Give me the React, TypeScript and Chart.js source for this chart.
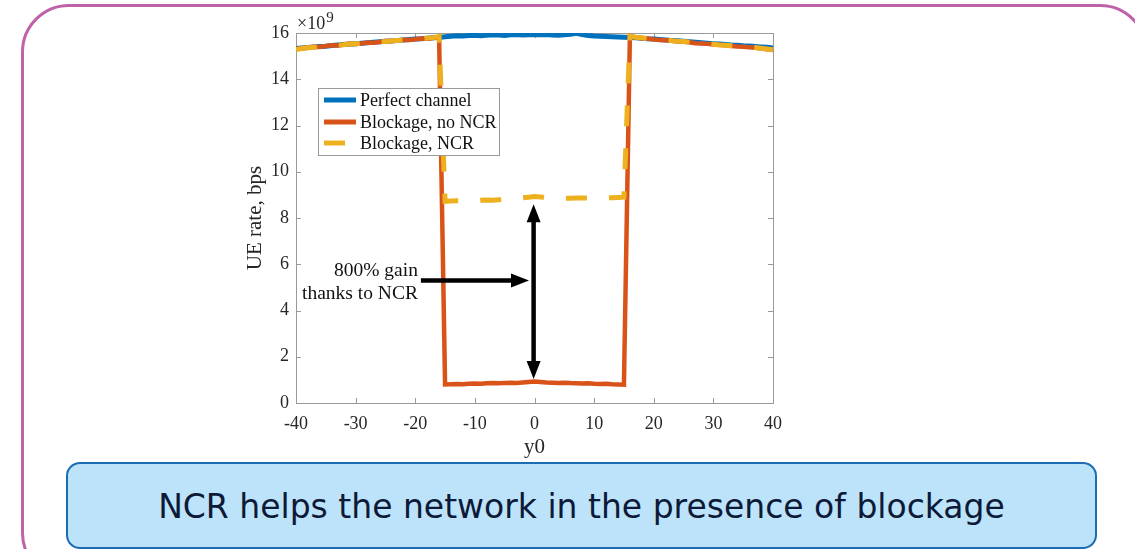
import React, { useEffect, useRef } from "react";
import { Chart, registerables } from "chart.js";

Chart.register(...registerables);

const X_VALUES = [-40,-39,-38,-37,-36,-35,-34,-33,-32,-31,-30,-29,-28,-27,-26,-25,-24,-23,-22,-21,-20,-19,-18,-17,-16,-15,-14,-13,-12,-11,-10,-9,-8,-7,-6,-5,-4,-3,-2,-1,0,1,2,3,4,5,6,7,8,9,10,11,12,13,14,15,16,17,18,19,20,21,22,23,24,25,26,27,28,29,30,31,32,33,34,35,36,37,38,39,40];

const PERFECT = [15.33,15.35,15.37,15.40,15.42,15.43,15.46,15.48,15.50,15.52,
  15.54,15.56,15.58,15.60,15.62,15.64,15.66,15.68,15.70,15.72,
  15.74,15.75,15.77,15.79,15.81,15.84,15.86,15.88,15.87,15.89,
  15.90,15.88,15.90,15.92,15.91,15.89,15.92,15.93,15.91,15.92,
  15.94,
  15.92,15.93,15.91,15.90,15.92,15.95,15.99,15.93,15.89,15.87,
  15.86,15.85,15.84,15.83,15.82,15.81,15.79,15.77,15.75,15.74,
  15.72,15.70,15.68,15.66,15.64,15.62,15.60,15.58,15.56,15.54,
  15.52,15.50,15.48,15.47,15.45,15.44,15.42,15.40,15.38,15.35];

const NO_NCR = [15.31,15.34,15.37,15.41,15.40,15.44,15.47,15.46,15.50,15.53,
  15.52,15.55,15.59,15.58,15.61,15.65,15.64,15.67,15.71,15.70,
  15.73,15.76,15.75,15.78,15.84,
  0.80,0.81,0.82,0.81,0.83,
  0.84,0.83,0.85,0.86,0.85,0.87,0.88,0.87,0.89,0.91,
  0.93,
  0.91,0.89,0.88,0.87,0.88,0.86,0.85,0.84,0.85,0.83,
  0.82,0.83,0.81,0.80,0.79,
  15.87,15.80,15.77,15.76,15.72,
  15.70,15.69,15.66,15.63,15.62,15.60,15.56,15.55,15.53,15.50,
  15.49,15.47,15.44,15.42,15.41,15.38,15.36,15.33,15.30,15.26];

const WITH_NCR = [15.29,15.33,15.36,15.38,15.41,15.43,15.45,15.48,15.49,15.52,
  15.54,15.55,15.57,15.60,15.62,15.63,15.66,15.68,15.69,15.72,
  15.73,15.75,15.78,15.80,15.85,
  8.72,8.74,8.75,8.74,8.76,
  8.75,8.77,8.78,8.77,8.79,8.80,8.82,8.84,8.87,8.90,
  8.93,
  8.91,8.88,8.86,8.87,8.86,8.85,8.86,8.87,8.86,8.85,
  8.86,8.87,8.88,8.89,8.90,
  15.86,15.82,15.79,15.76,15.74,
  15.71,15.70,15.67,15.64,15.63,15.60,15.58,15.55,15.53,15.51,
  15.48,15.47,15.45,15.43,15.40,15.39,15.37,15.34,15.31,15.28];

const SERIES_LABELS = ["Perfect channel", "Blockage, no NCR", "Blockage, NCR"];
const X_TICKS = [-40, -30, -20, -10, 0, 10, 20, 30, 40];
const Y_TICKS = [0, 2, 4, 6, 8, 10, 12, 14, 16];
const X_TITLE = "y0";
const Y_TITLE = "UE rate, bps";
const EXPONENT = "9";
const ANNOTATION_LINES = ["800% gain", "thanks to NCR"];
const ARROW_H = { y: 5.3, x1: -19.05, x2: -0.92 };
const ARROW_V = { x: -0.15, y1: 8.6, y2: 1.04 };
const CAPTION = "NCR helps the network in the presence of blockage";

const BLUE = "#0072BD";
const ORANGE = "#D95319";
const YELLOW = "#EDB120";
const AXIS = "#9a9a9a";
const TEXT = "#262626";
const SERIF = "'Liberation Serif', 'Times New Roman', serif";

function arrowHead(ctx: CanvasRenderingContext2D, tx: number, ty: number, dx: number, dy: number, len: number, hw: number) {
  const nx = -dy, ny = dx;
  ctx.beginPath();
  ctx.moveTo(tx, ty);
  ctx.lineTo(tx - dx * len + nx * hw, ty - dy * len + ny * hw);
  ctx.lineTo(tx - dx * len - nx * hw, ty - dy * len - ny * hw);
  ctx.closePath();
  ctx.fill();
}

const boxPlugin = {
  id: "matlabBox",
  beforeDatasetsDraw(chart: any) {
    const { ctx, chartArea: a, scales } = chart;
    ctx.save();
    ctx.strokeStyle = AXIS;
    ctx.lineWidth = 1;
    ctx.strokeRect(Math.round(a.left) + 0.5, Math.round(a.top) + 0.5, Math.round(a.right - a.left), Math.round(a.bottom - a.top));
    const tl = 5;
    ctx.beginPath();
    X_TICKS.forEach((v) => {
      const px = Math.round(scales.x.getPixelForValue(v)) + 0.5;
      ctx.moveTo(px, a.bottom); ctx.lineTo(px, a.bottom - tl);
      ctx.moveTo(px, a.top); ctx.lineTo(px, a.top + tl);
    });
    Y_TICKS.forEach((v) => {
      const py = Math.round(scales.y.getPixelForValue(v)) + 0.5;
      ctx.moveTo(a.left, py); ctx.lineTo(a.left + tl, py);
      ctx.moveTo(a.right, py); ctx.lineTo(a.right - tl, py);
    });
    ctx.stroke();
    // exponent label
    ctx.fillStyle = TEXT;
    ctx.textBaseline = "alphabetic";
    ctx.textAlign = "left";
    ctx.font = `18px ${SERIF}`;
    ctx.fillText("\u00d710", a.left + 1, a.top - 4);
    const w = ctx.measureText("\u00d710").width;
    ctx.font = `15px ${SERIF}`;
    ctx.fillText(EXPONENT, a.left + 1 + w + 1, a.top - 11);
    ctx.restore();
  },
  afterDatasetsDraw(chart: any) {
    const { ctx, chartArea: a, scales } = chart;
    ctx.save();
    // legend
    const lx = a.left + 22, ly = a.top + 55, lw = 181, lh = 67;
    ctx.fillStyle = "#ffffff";
    ctx.fillRect(lx, ly, lw, lh);
    ctx.strokeStyle = AXIS;
    ctx.lineWidth = 1;
    ctx.strokeRect(lx + 0.5, ly + 0.5, lw, lh);
    const colors = [BLUE, ORANGE, YELLOW];
    const rows = [12, 34, 55];
    ctx.font = `18px ${SERIF}`;
    ctx.textBaseline = "middle";
    ctx.textAlign = "left";
    SERIES_LABELS.forEach((lab, i) => {
      const yy = ly + rows[i];
      ctx.strokeStyle = colors[i];
      ctx.lineWidth = 5;
      ctx.beginPath();
      if (i === 2) {
        ctx.moveTo(lx + 6, yy); ctx.lineTo(lx + 27, yy);
      } else {
        ctx.moveTo(lx + 6, yy); ctx.lineTo(lx + 38, yy);
      }
      ctx.stroke();
      ctx.fillStyle = "#111";
      ctx.fillText(lab, lx + 42, yy + 1);
    });
    // annotation arrows
    ctx.fillStyle = "#000";
    ctx.strokeStyle = "#000";
    ctx.lineWidth = 4.5;
    const hy = scales.y.getPixelForValue(ARROW_H.y);
    const hx1 = scales.x.getPixelForValue(ARROW_H.x1);
    const hx2 = scales.x.getPixelForValue(ARROW_H.x2);
    ctx.beginPath();
    ctx.moveTo(hx1, hy); ctx.lineTo(hx2 - 12, hy);
    ctx.stroke();
    arrowHead(ctx, hx2, hy, 1, 0, 18, 7);
    const vx = scales.x.getPixelForValue(ARROW_V.x);
    const vy1 = scales.y.getPixelForValue(ARROW_V.y1);
    const vy2 = scales.y.getPixelForValue(ARROW_V.y2);
    ctx.beginPath();
    ctx.moveTo(vx, vy1 + 12); ctx.lineTo(vx, vy2 - 12);
    ctx.stroke();
    arrowHead(ctx, vx, vy1, 0, -1, 18, 7);
    arrowHead(ctx, vx, vy2, 0, 1, 18, 7);
    // annotation text
    ctx.font = `19.5px ${SERIF}`;
    ctx.fillStyle = "#111";
    ctx.textAlign = "right";
    ctx.textBaseline = "alphabetic";
    ctx.fillText(ANNOTATION_LINES[0], hx1 - 3, hy - 4);
    ctx.fillText(ANNOTATION_LINES[1], hx1 - 3, hy + 19);
    ctx.restore();
  },
};

export default function App() {
  const ref = useRef<HTMLCanvasElement | null>(null);
  useEffect(() => {
    if (!ref.current) return;
    const mk = (vals: number[]) => X_VALUES.map((x, i) => ({ x, y: vals[i] }));
    const chart = new Chart(ref.current, {
      type: "line",
      data: {
        datasets: [
          { label: SERIES_LABELS[2], data: mk(WITH_NCR), borderColor: YELLOW, borderWidth: 5, borderDash: [21, 22], pointRadius: 0, order: 0, borderCapStyle: "butt" },
          { label: SERIES_LABELS[1], data: mk(NO_NCR), borderColor: ORANGE, borderWidth: 4.5, pointRadius: 0, order: 1 },
          { label: SERIES_LABELS[0], data: mk(PERFECT), borderColor: BLUE, borderWidth: 5, pointRadius: 0, order: 2 },
        ],
      },
      options: {
        animation: false,
        responsive: false,
        events: [],
        layout: { padding: { left: 216, right: 362, top: 33, bottom: 76 } },
        elements: { line: { tension: 0 } },
        plugins: { legend: { display: false }, tooltip: { enabled: false } },
        scales: {
          x: {
            type: "linear",
            min: -40,
            max: 40,
            afterBuildTicks: (s: any) => { s.ticks = X_TICKS.map((v) => ({ value: v })); },
            afterFit: (s: any) => { s.height = 70; },
            ticks: { font: { family: SERIF, size: 18 }, color: TEXT, padding: 10, maxRotation: 0 },
            grid: { display: false, drawTicks: false },
            border: { display: false },
            title: { display: true, text: X_TITLE, font: { family: SERIF, size: 21 }, color: TEXT, padding: { top: 0, bottom: 13 } },
          },
          y: {
            type: "linear",
            min: 0,
            max: 16,
            afterBuildTicks: (s: any) => { s.ticks = Y_TICKS.map((v) => ({ value: v })); },
            afterFit: (s: any) => { s.width = 80; },
            ticks: { font: { family: SERIF, size: 18 }, color: TEXT, padding: 7 },
            grid: { display: false, drawTicks: false },
            border: { display: false },
            title: { display: true, text: Y_TITLE, font: { family: SERIF, size: 21 }, color: TEXT, padding: { top: 27, bottom: 0 } },
          },
        },
      },
      plugins: [boxPlugin],
    } as any);
    return () => chart.destroy();
  }, []);

  return (
    <div style={{ position: "absolute", left: 0, top: 0, width: 1135, height: 549, overflow: "hidden", background: "#fff" }}>
      <div style={{ position: "absolute", left: 21, top: 3.5, width: 1127, height: 577, border: "3.5px solid #bf62a8", borderRadius: 48, boxSizing: "border-box" }} />
      <canvas ref={ref} width={1135} height={549} style={{ position: "absolute", left: 0, top: 0, width: 1135, height: 549 }} />
      <div style={{ position: "absolute", left: 66, top: 462, width: 1031, height: 87, background: "#bde3fb", border: "2px solid #1b6cb2", borderRadius: 14, boxSizing: "border-box", display: "flex", alignItems: "center", justifyContent: "center", fontFamily: "'DejaVu Sans', sans-serif", fontSize: 33, color: "#0c1a38", lineHeight: 1, paddingTop: 2 }}>
        {CAPTION}
      </div>
    </div>
  );
}
